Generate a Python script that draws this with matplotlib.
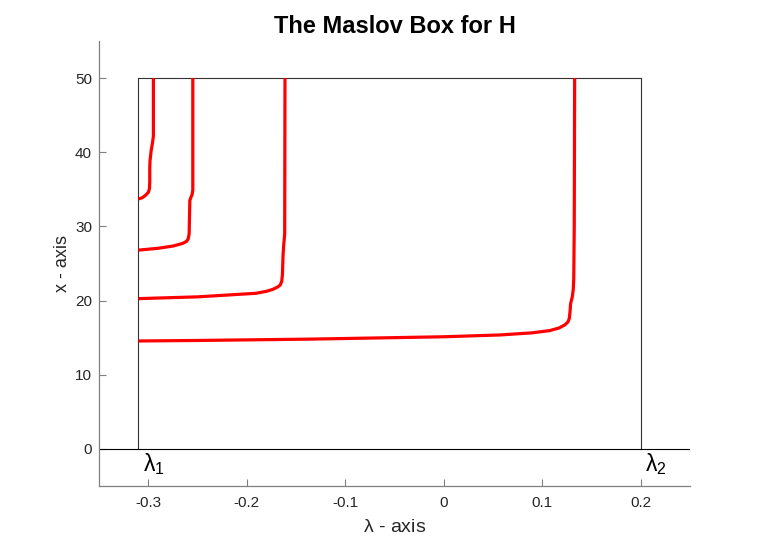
import matplotlib
matplotlib.use("Agg")
import matplotlib.pyplot as plt

plt.rcParams['font.family'] = ['Liberation Sans', 'DejaVu Sans']
plt.rcParams['mathtext.fontset'] = 'custom'
plt.rcParams['mathtext.rm'] = 'Liberation Sans'
plt.rcParams['mathtext.it'] = 'Liberation Sans'

# Box bounds
lam1, lam2 = -0.31, 0.2
x_lo, x_hi = 0, 50

# Curves (lambda, x)
c1_lam = [-0.31, -0.25, -0.2, -0.1365, -0.05, 0.0, 0.0567, 0.09, 0.1075, 0.117, 0.1227, 0.126, 0.1275,
          0.1282, 0.1288, 0.1305, 0.1315, 0.132, 0.1325, 0.1329]
c1_x   = [14.55, 14.62, 14.7, 14.8, 15.0, 15.12, 15.36, 15.65, 15.95, 16.3, 16.7, 17.1, 17.6,
          18.5, 19.6, 20.5, 21.5, 23.0, 30.0, 50.0]

c2_lam = [-0.31, -0.25, -0.1907, -0.18, -0.1738, -0.169, -0.166, -0.1645, -0.1638, -0.1632,
          -0.1625, -0.1615, -0.1612]
c2_x   = [20.26, 20.5, 20.98, 21.25, 21.5, 21.8, 22.1, 22.6, 23.5, 26.0,
          27.5, 29.0, 50.0]

c3_lam = [-0.31, -0.29, -0.275, -0.2653, -0.2615, -0.2595, -0.2585, -0.2582, -0.2578,
          -0.2568, -0.2555, -0.2548, -0.2548]
c3_x   = [26.8, 27.05, 27.35, 27.7, 27.95, 28.3, 29.0, 31.0, 33.5,
          33.9, 34.3, 34.9, 50.0]

c4_lam = [-0.31, -0.306, -0.3025, -0.2999, -0.2988, -0.2985, -0.2985, -0.2982, -0.2971,
          -0.2958, -0.2948, -0.2948]
c4_x   = [33.7, 33.87, 34.23, 34.6, 35.1, 36.0, 38.0, 38.9, 40.2,
          41.2, 42.2, 50.0]

xticks = [-0.3, -0.2, -0.1, 0, 0.1, 0.2]
xtick_labels = ['-0.3', '-0.2', '-0.1', '0', '0.1', '0.2']
yticks = [0, 10, 20, 30, 40, 50]

fig = plt.figure(figsize=(7.63, 5.45), dpi=100)
ax = fig.add_axes([0.1298, 0.1083, 0.9043 - 0.1298, 0.9248 - 0.1083])

box_c = '#333333'
ax.plot([lam1, lam1], [x_lo, x_hi], color=box_c, lw=0.8)
ax.plot([lam2, lam2], [x_lo, x_hi], color=box_c, lw=0.8)
ax.plot([lam1, lam2], [x_hi, x_hi], color=box_c, lw=0.8)
ax.axhline(0, color='black', lw=0.8)

for lx, ly in [(c1_lam, c1_x), (c2_lam, c2_x), (c3_lam, c3_x), (c4_lam, c4_x)]:
    ax.plot(lx, ly, color='#ff0000', lw=2.3, solid_capstyle='butt', solid_joinstyle='round')

ax.text(-0.3055, -0.3, r'$\lambda_1$', fontsize=16.5, va='top', ha='left', color='black')
ax.text(0.2045, -0.3, r'$\lambda_2$', fontsize=16.5, va='top', ha='left', color='black')

ax.set_xlim(-0.35, 0.25)
ax.set_ylim(-5, 55)
ax.set_xticks(xticks)
ax.set_xticklabels(xtick_labels)
ax.set_yticks(yticks)
for s in ['top', 'right']:
    ax.spines[s].set_visible(False)
for s in ['left', 'bottom']:
    ax.spines[s].set_color('#808080')
    ax.spines[s].set_linewidth(0.9)
ax.tick_params(direction='in', length=5, width=0.8, color='#808080',
               labelcolor='#262626', labelsize=11)
ax.tick_params(axis='x', pad=7)
ax.tick_params(axis='y', pad=5)

ax.set_xlabel(r'$\lambda$ - axis', fontsize=14, color='#262626', labelpad=7)
ax.set_ylabel('x - axis', fontsize=13, color='#262626', labelpad=3)
ax.set_title('The Maslov Box for H', fontsize=17, fontweight='bold', pad=6)

fig.savefig('out.png', dpi=100)
